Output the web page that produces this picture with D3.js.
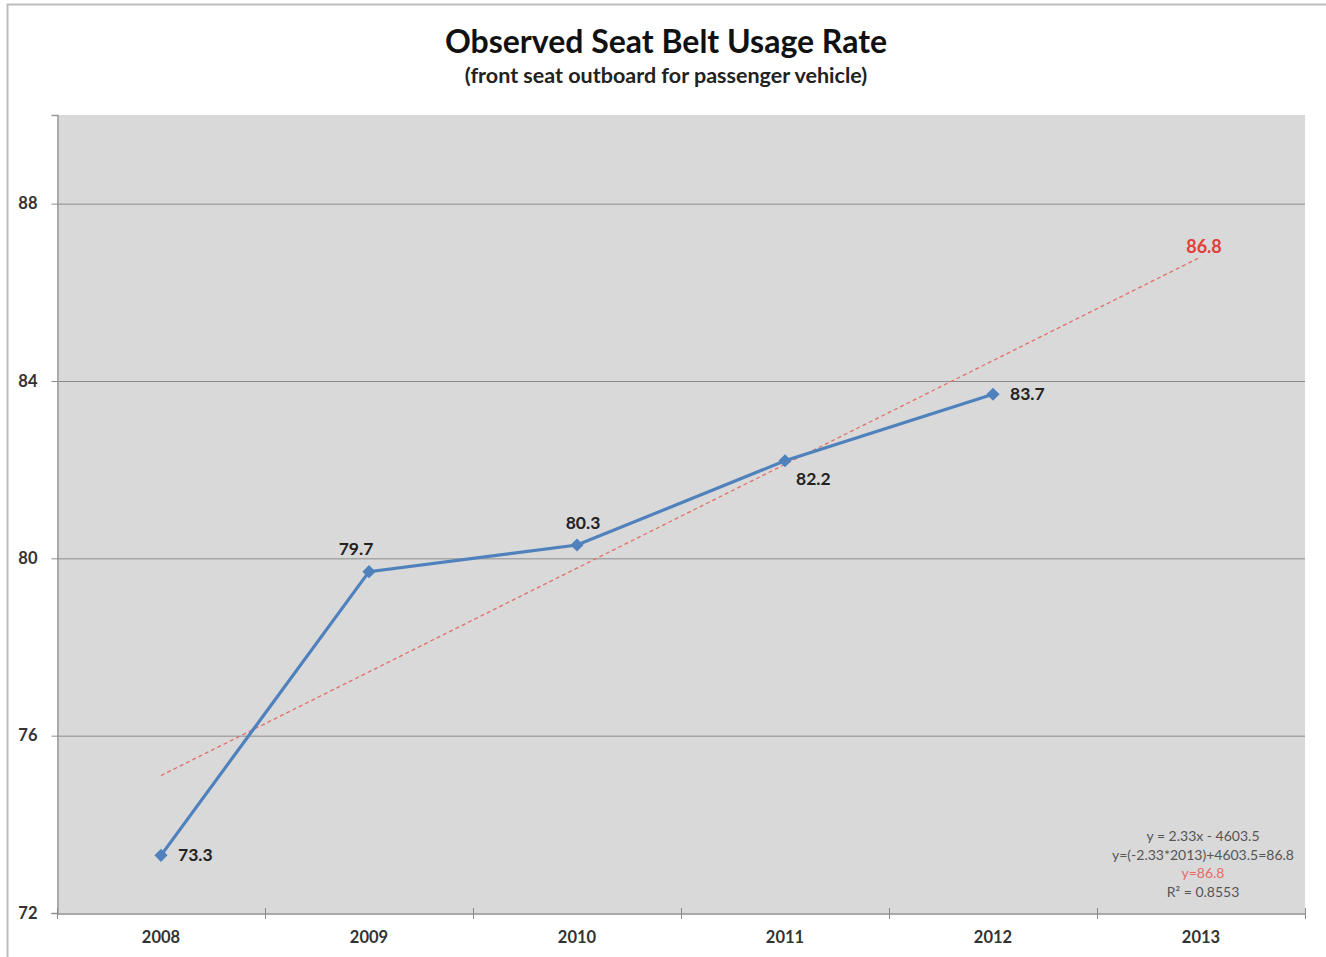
<!DOCTYPE html>
<html>
<head>
<meta charset="utf-8">
<script src="https://cdn.jsdelivr.net/npm/d3@7"></script>
<style>
  body { margin: 0; background: #fff; }
  svg { display: block; font-family: Lato, "Open Sans", sans-serif; }
</style>
</head>
<body>
<svg width="1326" height="957"></svg>
<script>
const years = ["2008", "2009", "2010", "2011", "2012", "2013"];
const usage = [73.3, 79.7, 80.3, 82.2, 83.7];
const trendYears = ["2008", "2013"];
const trendValues = [75.1, 86.8];
const yTicks = [72, 76, 80, 84, 88];
const equationLines = ["y = 2.33x - 4603.5", "y=(-2.33*2013)+4603.5=86.8", "y=86.8", "R² = 0.8553"];

const svg = d3.select("svg");
const plot = { left: 57, top: 115, right: 1305, bottom: 913 };

// chart frame
svg.append("rect")
  .attr("x", 7.5).attr("y", 4.5)
  .attr("width", 1340).attr("height", 1000)
  .attr("fill", "#fff").attr("stroke", "#bdbdbd").attr("stroke-width", 2);

svg.append("rect")
  .attr("x", plot.left).attr("y", plot.top)
  .attr("width", plot.right - plot.left).attr("height", plot.bottom - plot.top)
  .attr("fill", "#d9d9d9");

const x = d3.scaleBand().domain(years).range([plot.left, plot.right]);
const y = d3.scaleLinear().domain([72, 90]).range([plot.bottom, plot.top]);
const cx = (d) => x(d) + x.bandwidth() / 2;

// gridlines
svg.append("g")
  .selectAll("line")
  .data(yTicks.filter((d) => d > 72))
  .enter()
  .append("line")
  .attr("x1", plot.left).attr("x2", plot.right)
  .attr("y1", (d) => y(d) + 0.5).attr("y2", (d) => y(d) + 0.5)
  .attr("stroke", "#8c8c8c").attr("stroke-width", 1);

// y axis
const yAxis = svg.append("g")
  .attr("transform", `translate(${plot.left + 0.5},0)`)
  .call(d3.axisLeft(y).tickValues(yTicks).tickSize(6).tickPadding(14));
yAxis.select(".domain").attr("stroke", "#9a9a9a").attr("stroke-width", 1.5);
yAxis.selectAll(".tick line").attr("stroke", "#8c8c8c");
yAxis.selectAll("text")
  .attr("font-size", 16.5).attr("font-weight", "bold").attr("fill", "#333")
  .attr("font-family", "Lato, sans-serif");

// x axis with ticks at category boundaries
const xAxis = svg.append("g")
  .attr("transform", `translate(0,${plot.bottom + 0.5})`)
  .call(d3.axisBottom(x).tickSize(0).tickPadding(18));
xAxis.select(".domain").attr("stroke", "#8c8c8c").attr("stroke-width", 1.5);
xAxis.selectAll("text")
  .attr("font-size", 16.5).attr("font-weight", "bold").attr("fill", "#333")
  .attr("font-family", "Lato, sans-serif");
svg.append("g")
  .selectAll("line")
  .data(years.concat(["end"]))
  .enter()
  .append("line")
  .attr("x1", (d, i) => plot.left + i * x.bandwidth() + 0.5)
  .attr("x2", (d, i) => plot.left + i * x.bandwidth() + 0.5)
  .attr("y1", plot.bottom - 5).attr("y2", plot.bottom + 6)
  .attr("stroke", "#8c8c8c");

// trend line
svg.append("line")
  .attr("x1", cx(trendYears[0])).attr("y1", y(trendValues[0]))
  .attr("x2", cx(trendYears[1])).attr("y2", y(trendValues[1]))
  .attr("stroke", "#e0706a").attr("stroke-width", 1.3)
  .attr("stroke-dasharray", "4,3");

// series line
const pts = usage.map((v, i) => ({ year: years[i], v }));
svg.append("path")
  .datum(pts)
  .attr("fill", "none")
  .attr("stroke", "#4f81bd").attr("stroke-width", 3.2)
  .attr("d", d3.line().x((d) => cx(d.year)).y((d) => y(d.v)));

svg.append("g")
  .selectAll("path")
  .data(pts)
  .enter()
  .append("path")
  .attr("transform", (d) => `translate(${cx(d.year)},${y(d.v)})`)
  .attr("d", d3.symbol(d3.symbolDiamond2, 110)())
  .attr("fill", "#4f81bd");

// data labels
const labelOffsets = [[17, 6, "start"], [-13, -17, "middle"], [6, -16, "middle"], [11, 24, "start"], [17, 6, "start"]];
svg.append("g")
  .selectAll("text")
  .data(pts)
  .enter()
  .append("text")
  .attr("x", (d, i) => cx(d.year) + labelOffsets[i][0])
  .attr("y", (d, i) => y(d.v) + labelOffsets[i][1])
  .attr("text-anchor", (d, i) => labelOffsets[i][2])
  .attr("font-size", 17.5).attr("font-weight", "bold").attr("fill", "#222")
  .text((d) => d.v.toFixed(1));

svg.append("text")
  .attr("x", cx(trendYears[1]) + 3).attr("y", y(trendValues[1]) - 4)
  .attr("text-anchor", "middle")
  .attr("font-size", 18).attr("font-weight", "bold").attr("fill", "#e0403a")
  .text(trendValues[1].toFixed(1));

// equation box
svg.append("g")
  .selectAll("text")
  .data(equationLines)
  .enter()
  .append("text")
  .attr("x", 1203)
  .attr("y", (d, i) => 841 + i * 18.5)
  .attr("text-anchor", "middle")
  .attr("font-size", 14)
  .attr("fill", (d, i) => (i === 2 ? "#e86a6a" : "#555"))
  .text((d) => d);

// titles
svg.append("text")
  .attr("x", 666).attr("y", 53)
  .attr("text-anchor", "middle")
  .attr("font-size", 32).attr("font-weight", "bold").attr("fill", "#111")
  .text("Observed Seat Belt Usage Rate");
svg.append("text")
  .attr("x", 666).attr("y", 83)
  .attr("text-anchor", "middle")
  .attr("font-size", 21.5).attr("font-weight", "bold").attr("fill", "#222")
  .text("(front seat outboard for passenger vehicle)");
</script>
</body>
</html>
